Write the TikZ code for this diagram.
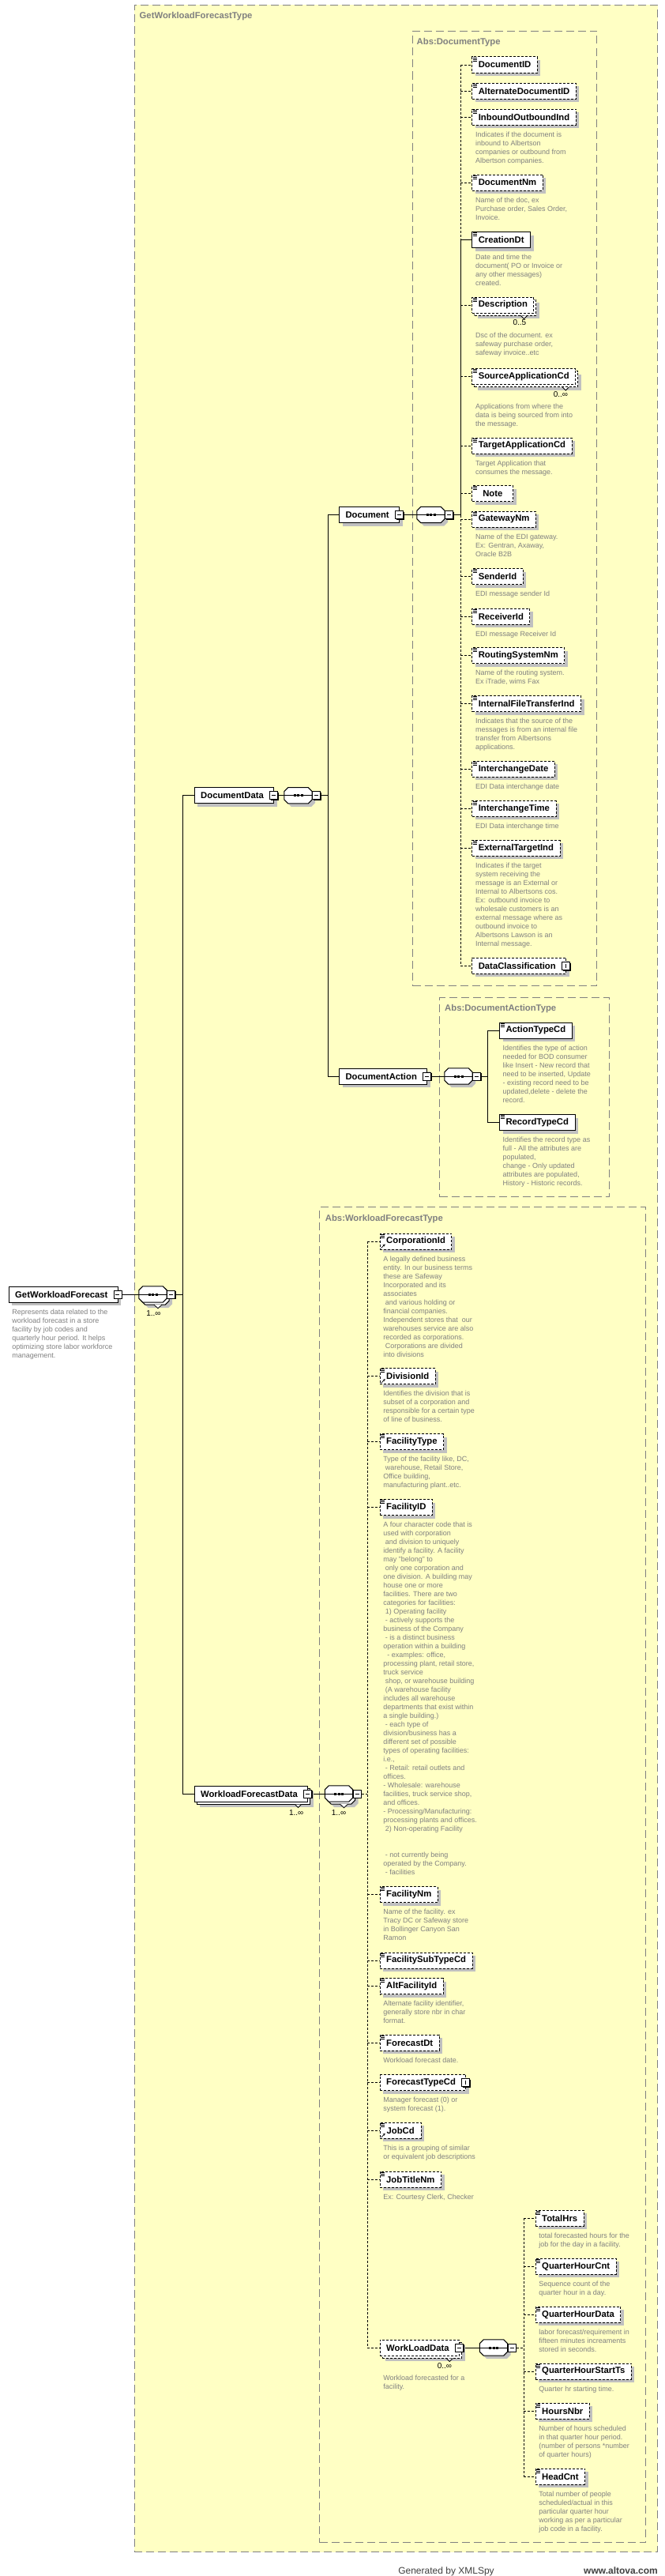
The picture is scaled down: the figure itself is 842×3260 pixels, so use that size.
\documentclass[tikz,border=0pt]{standalone}
\usepackage{fontspec}
\setmainfont{Liberation Sans}
\usetikzlibrary{positioning}
\usetikzlibrary{shadows,arrows.meta}
\definecolor{typefill}{RGB}{255,255,196}
\definecolor{typeline}{RGB}{128,128,128}
\definecolor{docgray}{RGB}{128,128,128}
\definecolor{shadowgray}{RGB}{192,192,192}
\definecolor{footgray}{RGB}{64,64,64}
\newcommand{\namefont}{\fontsize{11.3}{13}\selectfont\bfseries}
\newcommand{\docfont}{\fontsize{9}{11}\selectfont}
\newcommand{\indsp}{\hspace*{2.5pt}}
% octagon of a sequence compositor, shifted by (#2,#3)
\newcommand{\seqoct}[4]{%
  \path[#4] ([shift={(5+#2,#3)}]#1.north west) -- ([shift={(-5+#2,#3)}]#1.north east)
    -- ([shift={(#2,5+#3)}]#1.north east) -- ([shift={(#2,-5+#3)}]#1.south east)
    -- ([shift={(-5+#2,#3)}]#1.south east) -- ([shift={(5+#2,#3)}]#1.south west)
    -- ([shift={(#2,-5+#3)}]#1.south west) -- ([shift={(#2,5+#3)}]#1.north west) -- cycle;}
\pgfdeclarelayer{bg}
\pgfsetlayers{bg,main}
\tikzset{conn/.style={draw, line width=1pt}}
\tikzset{optconn/.style={conn, dash pattern=on 3pt off 2pt}}
\tikzset{
  typebox/.style={draw=typeline, fill=typefill, line width=1pt, dash pattern=on 10pt off 5pt, anchor=north west, inner sep=0pt},
  typetitle/.style={font=\fontsize{11.3}{13}\selectfont\bfseries, text=typeline, anchor=base west, inner sep=0pt},
  box/.style={draw, fill=white, line width=1pt, font=\namefont, minimum height=20pt, minimum width=52pt, inner xsep=8pt, inner ysep=0pt, anchor=west},
  mand/.style={box, general shadow={fill=shadowgray, shadow xshift=4pt, shadow yshift=-4pt}},
  opt/.style={mand, dash pattern=on 3pt off 2pt},
  mandmulti/.style={box, general shadow={fill=shadowgray, shadow xshift=7pt, shadow yshift=-7pt},
    general shadow={draw=black, fill=white, line width=1pt, shadow xshift=3pt, shadow yshift=-3pt}},
  optmulti/.style={box, dash pattern=on 3pt off 2pt, general shadow={fill=shadowgray, shadow xshift=7pt, shadow yshift=-7pt},
    general shadow={draw=black, fill=white, line width=1pt, dash pattern=on 3pt off 2pt, shadow xshift=3pt, shadow yshift=-3pt}},
  btnroom/.style={execute at end node={\hspace*{5pt}}},
  seq/.style={minimum width=35pt, minimum height=20pt, inner sep=0pt},
  minus/.style={draw, fill=white, line width=0.8pt, minimum size=10pt, inner sep=0pt,
    general shadow={fill=black, shadow xshift=1.3pt, shadow yshift=-1.3pt},
    path picture={\draw[line width=0.8pt] ([xshift=2.5pt]path picture bounding box.west) -- ([xshift=-2.5pt]path picture bounding box.east);}},
  plus/.style={minus,
    path picture={\draw[line width=0.8pt] ([yshift=2.5pt]path picture bounding box.south) -- ([yshift=-2.5pt]path picture bounding box.north);}},
  notch/.style={draw, fill=white, line width=0.8pt},
  icon/.style={line width=0.7pt},
  footer/.style={font=\fontsize{12}{14}\selectfont, text=footgray, inner sep=0pt}
}
\begin{document}
\begin{tikzpicture}[x=1pt, y=-1pt]
\tikzstyle{doc} = [font=\docfont, text=docgray, align=left, inner sep=0pt, anchor=north west]
\tikzstyle{mult} = [font=\fontsize{10}{12}\selectfont, inner sep=0pt]
\useasboundingbox (0,0) rectangle (842,3260);

% type boxes
\begin{pgfonlayer}{bg}
\fill[white] (0,0) rectangle (842,3260);
\node[typebox, minimum width=662.5pt, minimum height=3223.3pt] (GWFT) at (169.5,5.7) {};
\node[typebox, minimum width=233pt, minimum height=1208pt] (AbsDoc) at (522,39) {};
\node[typebox, minimum width=215pt, minimum height=252pt] (AbsAction) at (556,1262) {};
\node[typebox, minimum width=413pt, minimum height=1690pt] (AbsWorkload) at (404,1527) {};
\end{pgfonlayer}
\node[typetitle] (GWFTtitle) at ([shift={(7,17.5)}]GWFT.north west) {GetWorkloadForecastType};
\node[typetitle] (AbsDoctitle) at ([shift={(5.5,17.3)}]AbsDoc.north west) {Abs:DocumentType};
\node[typetitle] (AbsActiontitle) at ([shift={(7,17)}]AbsAction.north west) {Abs:DocumentActionType};
\node[typetitle] (AbsWorkloadtitle) at ([shift={(7.7,18)}]AbsWorkload.north west) {Abs:WorkloadForecastType};

% root
\node[mand, btnroom] (GetWorkloadForecast) at (10.7,1638) {GetWorkloadForecast};
\node[doc, below right=8pt and 4.5pt of GetWorkloadForecast.south west] (GetWorkloadForecastDoc) {Represents data related to the\\workload forecast in a store\\facility by job codes and\\quarterly hour period. It helps\\optimizing store labor workforce\\management.};
\node[seq] (rootseq) at (193.5,1638) {};
\node[mult] (rootseqMult) at ([shift={(1,14)}]rootseq.south) {1..∞};

% document data
\node[mand, btnroom] (DocumentData) at (245.7,1006.7) {DocumentData};
\node[seq] (ddseq) at (377.5,1006.7) {};
\node[mand, btnroom] (Document) at (429,651.5) {Document};
\node[seq] (docseq) at (545.5,651.5) {};
\node[mand, btnroom] (DocumentAction) at (429,1362) {DocumentAction};
\node[seq] (actseq) at (580.5,1362) {};

% Abs:DocumentType
\node[opt] (DocumentID) at (597.3,82) {DocumentID};
\node[opt] (AlternateDocumentID) at (597.3,115) {AlternateDocumentID};
\node[opt] (InboundOutboundInd) at (597.3,148) {InboundOutboundInd};
\node[doc, below right=8pt and 4.5pt of InboundOutboundInd.south west] (InboundOutboundIndDoc) {Indicates if the document is\\inbound to Albertson\\companies or outbound from\\Albertson companies.};
\node[opt] (DocumentNm) at (597.3,231) {DocumentNm};
\node[doc, below right=8pt and 4.5pt of DocumentNm.south west] (DocumentNmDoc) {Name of the doc, ex\\Purchase order, Sales Order,\\Invoice.};
\node[mand] (CreationDt) at (597.3,303.5) {CreationDt};
\node[doc, below right=8pt and 4.5pt of CreationDt.south west] (CreationDtDoc) {Date and time the\\document( PO or Invoice or\\any other messages)\\created.};
\node[optmulti] (Description) at (597.3,386) {Description};
\node[mult, anchor=east] (DescriptionMult) at ([shift={(-10,12)}]Description.south east) {0..5};
\node[doc, below right=24pt and 4.5pt of Description.south west] (DescriptionDoc) {Dsc of the document. ex\\safeway purchase order,\\safeway invoice..etc};
\node[optmulti] (SourceApplicationCd) at (597.3,476.5) {SourceApplicationCd};
\node[mult, anchor=east] (SourceApplicationCdMult) at ([shift={(-10,12)}]SourceApplicationCd.south east) {0..∞};
\node[doc, below right=24pt and 4.5pt of SourceApplicationCd.south west] (SourceApplicationCdDoc) {Applications from where the\\data is being sourced from into\\the message.};
\node[opt] (TargetApplicationCd) at (597.3,564) {TargetApplicationCd};
\node[doc, below right=8pt and 4.5pt of TargetApplicationCd.south west] (TargetApplicationCdDoc) {Target Application that\\consumes the message.};
\node[opt] (Note) at (597.3,624.5) {Note};
\node[opt] (GatewayNm) at (597.3,657) {GatewayNm};
\node[doc, below right=8pt and 4.5pt of GatewayNm.south west] (GatewayNmDoc) {Name of the EDI gateway.\\Ex: Gentran, Axaway,\\Oracle B2B};
\node[opt] (SenderId) at (597.3,729.6) {SenderId};
\node[doc, below right=8pt and 4.5pt of SenderId.south west] (SenderIdDoc) {EDI message sender Id};
\node[opt] (ReceiverId) at (597.3,780) {ReceiverId};
\node[doc, below right=8pt and 4.5pt of ReceiverId.south west] (ReceiverIdDoc) {EDI message Receiver Id};
\node[opt] (RoutingSystemNm) at (597.3,829.6) {RoutingSystemNm};
\node[doc, below right=8pt and 4.5pt of RoutingSystemNm.south west] (RoutingSystemNmDoc) {Name of the routing system.\\Ex iTrade, wims Fax};
\node[opt] (InternalFileTransferInd) at (597.3,890.5) {InternalFileTransferInd};
\node[doc, below right=8pt and 4.5pt of InternalFileTransferInd.south west] (InternalFileTransferIndDoc) {Indicates that the source of the\\messages is from an internal file\\transfer from Albertsons\\applications.};
\node[opt] (InterchangeDate) at (597.3,973.4) {InterchangeDate};
\node[doc, below right=8pt and 4.5pt of InterchangeDate.south west] (InterchangeDateDoc) {EDI Data interchange date};
\node[opt] (InterchangeTime) at (597.3,1023.3) {InterchangeTime};
\node[doc, below right=8pt and 4.5pt of InterchangeTime.south west] (InterchangeTimeDoc) {EDI Data interchange time};
\node[opt] (ExternalTargetInd) at (597.3,1073.4) {ExternalTargetInd};
\node[doc, below right=8pt and 4.5pt of ExternalTargetInd.south west] (ExternalTargetIndDoc) {Indicates if the target\\system receiving the\\message is an External or\\Internal to Albertsons cos.\\Ex: outbound invoice to\\wholesale customers is an\\external message where as\\outbound invoice to\\Albertsons Lawson is an\\Internal message.};
\node[opt, btnroom] (DataClassification) at (597.3,1222.3) {DataClassification};

% Abs:DocumentActionType
\node[mand] (ActionTypeCd) at (632,1304) {ActionTypeCd};
\node[doc, below right=8pt and 4.5pt of ActionTypeCd.south west] (ActionTypeCdDoc) {Identifies the type of action\\needed for BOD consumer\\like Insert - New record that\\need to be inserted, Update\\- existing record need to be\\updated,delete - delete the\\record.};
\node[mand] (RecordTypeCd) at (632,1420.5) {RecordTypeCd};
\node[doc, below right=8pt and 4.5pt of RecordTypeCd.south west] (RecordTypeCdDoc) {Identifies the record type as\\full - All the attributes are\\populated,\\change - Only updated\\attributes are populated,\\History - Historic records.};

% workload forecast data
\node[mandmulti, btnroom] (WorkloadForecastData) at (245.6,2270) {WorkloadForecastData};
\node[mult, anchor=east] (WorkloadForecastDataMult) at ([shift={(-6,24)}]WorkloadForecastData.east) {1..∞};
\node[seq] (wfseq) at (429,2270) {};
\node[mult] (wfseqMult) at ([shift={(0,14)}]wfseq.south) {1..∞};

% Abs:WorkloadForecastType
\node[opt] (CorporationId) at (480.7,1571) {CorporationId};
\node[doc, below right=8pt and 4.5pt of CorporationId.south west] (CorporationIdDoc) {A legally defined business\\entity. In our business terms\\these are Safeway\\Incorporated and its\\associates\\\indsp and various holding or\\financial companies.\\Independent stores that\ \ our\\warehouses service are also\\recorded as corporations.\\\indsp Corporations are divided\\into divisions};
\node[opt] (DivisionId) at (480.7,1741.6) {DivisionId};
\node[doc, below right=8pt and 4.5pt of DivisionId.south west] (DivisionIdDoc) {Identifies the division that is\\subset of a corporation and\\responsible for a certain type\\of line of business.};
\node[opt] (FacilityType) at (480.7,1824.7) {FacilityType};
\node[doc, below right=8pt and 4.5pt of FacilityType.south west] (FacilityTypeDoc) {Type of the facility like, DC,\\\indsp warehouse, Retail Store,\\Office building,\\manufacturing plant..etc.};
\node[opt] (FacilityID) at (480.7,1907.7) {FacilityID};
\node[doc, below right=8pt and 4.5pt of FacilityID.south west] (FacilityIDDoc) {A four character code that is\\used with corporation\\\indsp and division to uniquely\\identify a facility. A facility\\may "belong" to\\\indsp only one corporation and\\one division. A building may\\house one or more\\facilities. There are two\\categories for facilities:\\\indsp 1) Operating facility\\\indsp - actively supports the\\business of the Company\\\indsp - is a distinct business\\operation within a building\\\indsp\indsp - examples: office,\\processing plant, retail store,\\truck service\\\indsp shop, or warehouse building\\\indsp (A warehouse facility\\includes all warehouse\\departments that exist within\\a single building.)\\\indsp - each type of\\division/business has a\\different set of possible\\types of operating facilities:\\i.e.,\\\indsp - Retail: retail outlets and\\offices.\\- Wholesale: warehouse\\facilities, truck service shop,\\and offices.\\- Processing/Manufacturing:\\processing plants and offices.\\\indsp 2) Non-operating Facility\\\mbox{}\\\mbox{}\\\indsp - not currently being\\operated by the Company.\\\indsp - facilities};
\node[opt] (FacilityNm) at (480.7,2397.5) {FacilityNm};
\node[doc, below right=8pt and 4.5pt of FacilityNm.south west] (FacilityNmDoc) {Name of the facility. ex\\Tracy DC or Safeway store\\in Bollinger Canyon San\\Ramon};
\node[opt] (FacilitySubTypeCd) at (480.7,2481) {FacilitySubTypeCd};
\node[opt] (AltFacilityId) at (480.7,2513.7) {AltFacilityId};
\node[doc, below right=8pt and 4.5pt of AltFacilityId.south west] (AltFacilityIdDoc) {Alternate facility identifier,\\generally store nbr in char\\format.};
\node[opt] (ForecastDt) at (480.7,2585.3) {ForecastDt};
\node[doc, below right=8pt and 4.5pt of ForecastDt.south west] (ForecastDtDoc) {Workload forecast date.};
\node[opt, btnroom] (ForecastTypeCd) at (480.7,2635.7) {ForecastTypeCd};
\node[doc, below right=8pt and 4.5pt of ForecastTypeCd.south west] (ForecastTypeCdDoc) {Manager forecast (0) or\\system forecast (1).};
\node[opt] (JobCd) at (480.7,2696.3) {JobCd};
\node[doc, below right=8pt and 4.5pt of JobCd.south west] (JobCdDoc) {This is a grouping of similar\\or equivalent job descriptions};
\node[opt] (JobTitleNm) at (480.7,2758) {JobTitleNm};
\node[doc, below right=8pt and 4.5pt of JobTitleNm.south west] (JobTitleNmDoc) {Ex: Courtesy Clerk, Checker};
\node[optmulti, btnroom] (WorkLoadData) at (480.7,2971) {WorkLoadData};
\node[mult, anchor=east] (WorkLoadDataMult) at ([shift={(-10,13)}]WorkLoadData.south east) {0..∞};
\node[doc, below right=24pt and 4.5pt of WorkLoadData.south west] (WorkLoadDataDoc) {Workload forecasted for a\\facility.};
\node[seq] (wlseq) at (625,2971) {};

% workload data
\node[opt] (TotalHrs) at (677.7,2807.4) {TotalHrs};
\node[doc, below right=8pt and 4.5pt of TotalHrs.south west] (TotalHrsDoc) {total forecasted hours for the\\job for the day in a facility.};
\node[opt] (QuarterHourCnt) at (677.7,2868.4) {QuarterHourCnt};
\node[doc, below right=8pt and 4.5pt of QuarterHourCnt.south west] (QuarterHourCntDoc) {Sequence count of the\\quarter hour in a day.};
\node[opt] (QuarterHourData) at (677.7,2929.4) {QuarterHourData};
\node[doc, below right=8pt and 4.5pt of QuarterHourData.south west] (QuarterHourDataDoc) {labor forecast/requirement in\\fifteen minutes increaments\\stored in seconds.};
\node[opt] (QuarterHourStartTs) at (677.7,3001) {QuarterHourStartTs};
\node[doc, below right=8pt and 4.5pt of QuarterHourStartTs.south west] (QuarterHourStartTsDoc) {Quarter hr starting time.};
\node[opt] (HoursNbr) at (677.7,3051) {HoursNbr};
\node[doc, below right=8pt and 4.5pt of HoursNbr.south west] (HoursNbrDoc) {Number of hours scheduled\\in that quarter hour period.\\(number of persons *number\\of quarter hours)};
\node[opt] (HeadCnt) at (677.7,3134) {HeadCnt};
\node[doc, below right=8pt and 4.5pt of HeadCnt.south west] (HeadCntDoc) {Total number of people\\scheduled/actual in this\\particular quarter hour\\working as per a particular\\job code in a facility.};

% compositors
\foreach \s in {rootseq,wfseq}{
  \seqoct{\s}{7}{7}{fill=shadowgray}
  \seqoct{\s}{3}{3}{draw, fill=white, line width=1pt}
  \draw[notch] ([shift={(1.5,3)}]\s.south) -- ++(5,4.5) -- ++(5,-4.5);
}
\foreach \s in {ddseq,docseq,actseq,wlseq}{
  \seqoct{\s}{4}{4}{fill=shadowgray}
}
\foreach \s in {rootseq,ddseq,docseq,actseq,wfseq,wlseq}{
  \seqoct{\s}{0}{0}{draw, fill=white, line width=1pt}
  \draw[line width=1pt] (\s.west) -- (\s.east);
  \foreach \d in {-4.5,0,4.5}
    \fill ([shift={(\d-1.5,-1.5)}]\s.center) rectangle ++(3,3);
}
\foreach \n in {Description,SourceApplicationCd,WorkLoadData,WorkloadForecastData}
  \draw[notch] ([shift={(-17,3)}]\n.south east) -- ++(4,4) -- ++(4,-4);

% buttons
\node[minus] (GetWorkloadForecastbtn) at ([xshift=-1pt]GetWorkloadForecast.east) {};
\node[minus] (DocumentDatabtn) at ([xshift=-1pt]DocumentData.east) {};
\node[minus] (Documentbtn) at ([xshift=-1pt]Document.east) {};
\node[minus] (DocumentActionbtn) at ([xshift=-1pt]DocumentAction.east) {};
\node[minus] (WorkloadForecastDatabtn) at ([xshift=-1pt]WorkloadForecastData.east) {};
\node[minus] (WorkLoadDatabtn) at ([xshift=-1pt]WorkLoadData.east) {};
\node[plus] (DataClassificationbtn) at ([xshift=-1pt]DataClassification.east) {};
\node[plus] (ForecastTypeCdbtn) at ([xshift=-1pt]ForecastTypeCd.east) {};
\foreach \s in {rootseq,ddseq,docseq,actseq,wfseq,wlseq}
  \node[minus, anchor=west] (\s-btn) at (\s.east) {};

% icons
\foreach \n in {DocumentID,AlternateDocumentID,InboundOutboundInd,DocumentNm,CreationDt,Description,SourceApplicationCd,TargetApplicationCd,Note,GatewayNm,SenderId,ReceiverId,RoutingSystemNm,InternalFileTransferInd,InterchangeDate,InterchangeTime,ExternalTargetInd,ActionTypeCd,RecordTypeCd,CorporationId,DivisionId,FacilityType,FacilityID,FacilityNm,FacilitySubTypeCd,AltFacilityId,ForecastDt,JobCd,JobTitleNm,TotalHrs,QuarterHourCnt,QuarterHourData,QuarterHourStartTs,HoursNbr,HeadCnt}{
  \foreach \k in {1.5,3.5,5.5}
    \draw[icon] ([shift={(1.5,\k)}]\n.north west) -- ++(5,0);
}
\foreach \n in {CorporationId,DivisionId,JobCd}
  \draw[icon, -{Stealth[length=3pt,width=3pt]}] ([shift={(2,-2)}]\n.south west) -- ++(5,-5);

% connectors
\coordinate (rootbus) at (231,1638);
\coordinate (ddbus) at (415,1006.7);
\coordinate (docbus) at (583,651.5);
\coordinate (actbus) at (617,1362);
\coordinate (wfbus) at (465,2270);
\coordinate (wlbus) at (663,2971);
\begin{pgfonlayer}{bg}
\draw[conn] (GetWorkloadForecastbtn.east) -- (rootseq.west);
\draw[conn] (rootseq-btn.east) -- (rootbus);
\draw[conn] (rootbus |- DocumentData.west) -- (rootbus |- WorkloadForecastData.west);
\foreach \n in {DocumentData,WorkloadForecastData}
  \draw[conn] (rootbus |- \n.west) -- (\n.west);
\draw[conn] (DocumentDatabtn.east) -- (ddseq.west);
\draw[conn] (ddseq-btn.east) -- (ddbus);
\draw[conn] (ddbus |- Document.west) -- (ddbus |- DocumentAction.west);
\foreach \n in {Document,DocumentAction}
  \draw[conn] (ddbus |- \n.west) -- (\n.west);
\draw[conn] (Documentbtn.east) -- (docseq.west);
\draw[conn] (docseq-btn.east) -- (docbus);
\draw[optconn] (docbus |- DocumentID.west) -- (docbus |- CreationDt.west);
\draw[conn] (docbus |- CreationDt.west) -- (docbus);
\draw[optconn] (docbus) -- (docbus |- DataClassification.west);
\foreach \n in {DocumentID,AlternateDocumentID,InboundOutboundInd,DocumentNm,Description,SourceApplicationCd,TargetApplicationCd,Note,GatewayNm,SenderId,ReceiverId,RoutingSystemNm,InternalFileTransferInd,InterchangeDate,InterchangeTime,ExternalTargetInd,DataClassification}
  \draw[optconn] (docbus |- \n.west) -- (\n.west);
\draw[conn] (docbus |- CreationDt.west) -- (CreationDt.west);
\draw[conn] (DocumentActionbtn.east) -- (actseq.west);
\draw[conn] (actseq-btn.east) -- (actbus);
\draw[conn] (actbus |- ActionTypeCd.west) -- (actbus |- RecordTypeCd.west);
\foreach \n in {ActionTypeCd,RecordTypeCd}
  \draw[conn] (actbus |- \n.west) -- (\n.west);
\draw[conn] (WorkloadForecastDatabtn.east) -- (wfseq.west);
\draw[optconn] (wfseq-btn.east) -- (wfbus);
\draw[optconn] (wfbus |- CorporationId.west) -- (wfbus |- WorkLoadData.west);
\foreach \n in {CorporationId,DivisionId,FacilityType,FacilityID,FacilityNm,FacilitySubTypeCd,AltFacilityId,ForecastDt,ForecastTypeCd,JobCd,JobTitleNm,WorkLoadData}
  \draw[optconn] (wfbus |- \n.west) -- (\n.west);
\draw[conn] (WorkLoadDatabtn.east) -- (wlseq.west);
\draw[optconn] (wlseq-btn.east) -- (wlbus);
\draw[optconn] (wlbus |- TotalHrs.west) -- (wlbus |- HeadCnt.west);
\foreach \n in {TotalHrs,QuarterHourCnt,QuarterHourData,QuarterHourStartTs,HoursNbr,HeadCnt}
  \draw[optconn] (wlbus |- \n.west) -- (\n.west);
\end{pgfonlayer}

% footer
\node[footer, anchor=base] (gen) at (565,3257) {Generated by XMLSpy};
\node[footer, font=\fontsize{12}{14}\selectfont\bfseries, anchor=base east] (altova) at (833,3257) {www.altova.com};
\end{tikzpicture}
\end{document}
